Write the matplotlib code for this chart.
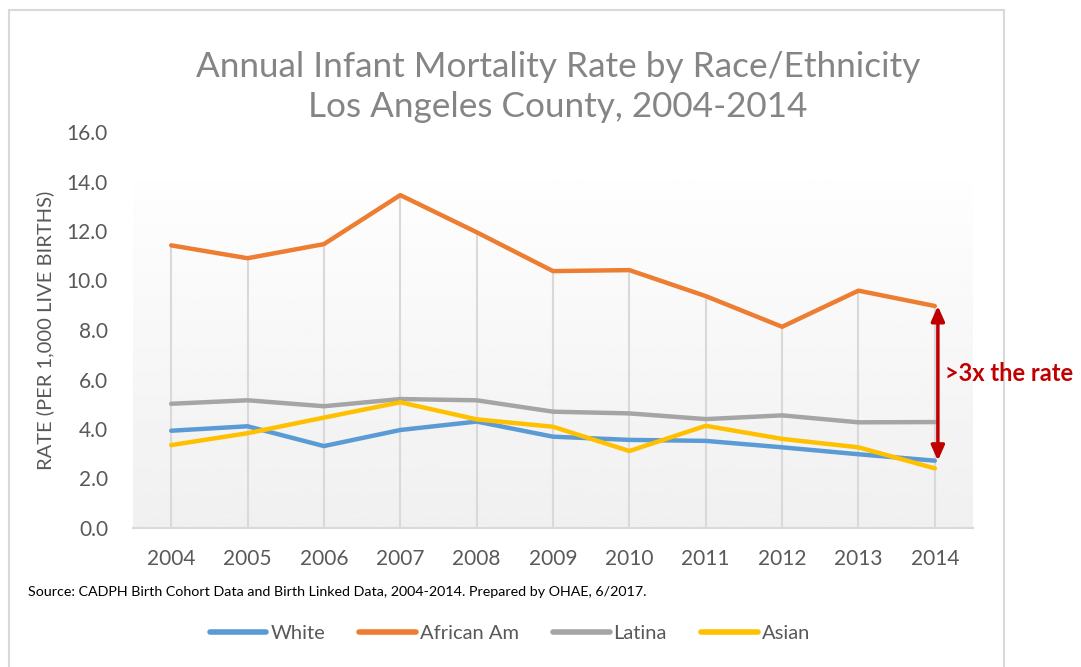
import matplotlib
matplotlib.use("Agg")
import matplotlib.pyplot as plt
import numpy as np
from matplotlib.patches import Rectangle
from matplotlib.lines import Line2D

plt.rcParams["font.family"] = ["Lato", "DejaVu Sans"]

years = [2004, 2005, 2006, 2007, 2008, 2009, 2010, 2011, 2012, 2013, 2014]
white = [3.93, 4.11, 3.31, 3.96, 4.30, 3.69, 3.56, 3.52, 3.26, 2.98, 2.72]
african_am = [11.42, 10.90, 11.47, 13.45, 11.95, 10.38, 10.42, 9.37, 8.13, 9.59, 8.97]
latina = [5.02, 5.16, 4.92, 5.21, 5.16, 4.70, 4.63, 4.40, 4.55, 4.27, 4.28]
asian = [3.35, 3.83, 4.46, 5.08, 4.39, 4.09, 3.11, 4.13, 3.60, 3.26, 2.41]

series = [
    ("White", white, "#5B9BD5"),
    ("African Am", african_am, "#ED7D31"),
    ("Latina", latina, "#A5A5A5"),
    ("Asian", asian, "#FFC000"),
]
yticks = [0, 2, 4, 6, 8, 10, 12, 14, 16]

TXT = "#595959"
RED = "#C00000"

fig = plt.figure(figsize=(10.81, 6.67), dpi=100)
ax = fig.add_axes([133 / 1081, 1 - 528 / 667, 840 / 1081, 396 / 667])

# plot-area gradient fill (white at top to light grey at the axis)
grad = np.linspace(0.995, 0.94, 256).reshape(-1, 1)
ax.imshow(grad, cmap="gray", vmin=0, vmax=1, aspect="auto",
          extent=(years[0] - 0.5, years[-1] + 0.5, 0, 14), zorder=0)

# drop lines from the highest series down to the axis
ax.vlines(years, 0, african_am, color="#D9D9D9", lw=1.5, zorder=1)

for name, vals, col in series:
    ax.plot(years, vals, color=col, lw=3.2, solid_capstyle="round",
            solid_joinstyle="round", zorder=3, label=name)

ax.set_xlim(years[0] - 0.5, years[-1] + 0.5)
ax.set_ylim(0, 16)
ax.set_yticks(yticks)
ax.set_yticklabels([f"{v:.1f}" for v in yticks])
ax.set_xticks(years)
ax.tick_params(length=0, labelsize=15, colors=TXT)
ax.tick_params(axis="y", pad=18)
ax.tick_params(axis="x", pad=15)
for s in ("top", "right", "left"):
    ax.spines[s].set_visible(False)
ax.spines["bottom"].set_color("#D9D9D9")
ax.spines["bottom"].set_linewidth(1.5)
ax.set_facecolor("none")

ax.set_ylabel("RATE (PER 1,000 LIVE BIRTHS)", fontsize=14.5, color=TXT, labelpad=9)

# ">3x" annotation between African Am and White in 2014
ax.annotate("", xy=(years[-1] + 0.04, white[-1]), xytext=(years[-1] + 0.04, african_am[-1]),
            arrowprops=dict(arrowstyle="<|-|>,head_length=0.9,head_width=0.4",
                            color=RED, lw=2.5, shrinkA=0, shrinkB=0), zorder=5)
ax.text(years[-1] + 0.13, (african_am[-1] + white[-1]) / 2 + 0.4, ">3x the rate",
        fontsize=17, fontweight="bold", color=RED, va="center", ha="left",
        clip_on=False, zorder=6)

fig.text(558 / 1081, 1 - 87 / 667,
         "Annual Infant Mortality Rate by Race/Ethnicity\nLos Angeles County, 2004-2014",
         ha="center", va="center", fontsize=25.3, color="#858585", linespacing=1.3)

fig.text(28 / 1081, 1 - 592 / 667,
         "Source: CADPH Birth Cohort Data and Birth Linked Data, 2004-2014. Prepared by OHAE, 6/2017.",
         ha="left", va="center", fontsize=10.3, color="black")

handles = [Line2D([0], [0], color=c, lw=4, solid_capstyle="round", label=n)
           for n, _, c in series]
fig.legend(handles=handles, loc="center", bbox_to_anchor=(510 / 1081, 1 - 633 / 667),
           ncol=4, frameon=False, fontsize=14.5, handlelength=2.8, handletextpad=0.2,
           columnspacing=1.7, labelcolor=TXT)

# outer chart frame
fig.add_artist(Rectangle((9 / 1081, -0.05), 995 / 1081, 1.05 - 10 / 667,
                         transform=fig.transFigure, fill=False,
                         edgecolor="#D9D9D9", lw=1.5, zorder=0))

fig.savefig("out.png", dpi=100)
